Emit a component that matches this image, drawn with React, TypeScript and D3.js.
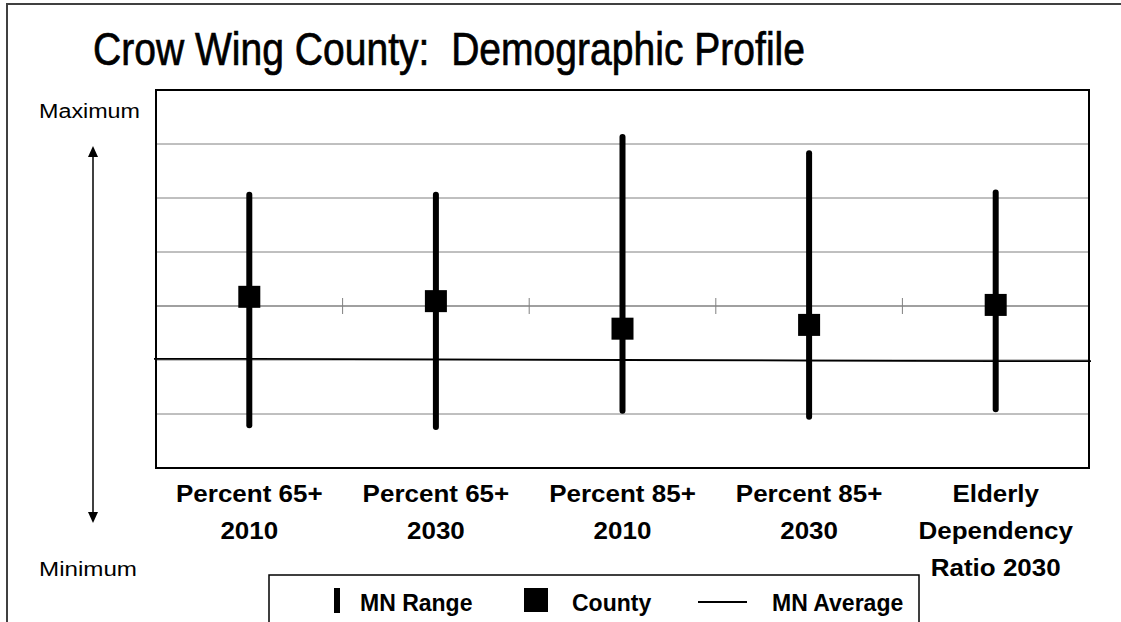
import React from 'react';
import * as d3 from 'd3';

// categories (each entry = label lines)
const categories = [
  ['Percent 65+', '2010'],
  ['Percent 65+', '2030'],
  ['Percent 85+', '2010'],
  ['Percent 85+', '2030'],
  ['Elderly', 'Dependency', 'Ratio 2030'],
];
const mnMax = [5.06, 5.06, 6.13, 5.83, 5.1];
const mnMin = [0.79, 0.76, 1.06, 0.95, 1.09];
const county = [3.17, 3.09, 2.58, 2.65, 3.02];
const mnAverage = [2.02, 2.01, 2.0, 1.99, 1.98];
const gridValues = [1, 2, 3, 4, 5, 6];
const axisValue = 3;

const W = 1121;
const H = 622;
const FONT = "'Liberation Sans', Arial, Helvetica, sans-serif";

const App = () => {
  const left = 156, right = 1089, top = 90, bottom = 468;
  const x = d3.scaleBand<number>().domain(d3.range(categories.length)).range([left, right]);
  const y = d3.scaleLinear().domain([0, 7]).range([bottom, top]);
  const cx = (i: number) => (x(i) as number) + x.bandwidth() / 2;

  const avgPts: [number, number][] = mnAverage.map((v, i) => [cx(i), y(v)]);
  avgPts.unshift([left - 2, y(mnAverage[0])]);
  avgPts.push([right + 2, y(mnAverage[mnAverage.length - 1])]);
  const avgLine = d3.line();

  const sq = 22;

  return (
    <svg width={W} height={H} style={{ position: 'absolute', left: 0, top: 0, background: '#fff' }} fontFamily={FONT}>
      <rect x={7} y={4} width={W + 20} height={H + 20} fill="#fff" stroke="#404040" strokeWidth={2} />
      <text x={93} y={65} fontSize={46} textLength={712} lengthAdjust="spacingAndGlyphs"
        stroke="#000" strokeWidth={0.7}
        fontFamily="'Liberation Sans Narrow', 'Arial Narrow', 'Liberation Sans', sans-serif">
        {'Crow Wing County:\u00a0 Demographic Profile'}
      </text>

      {/* left min/max indicator */}
      <text x={39} y={118} fontSize={20} textLength={101} lengthAdjust="spacingAndGlyphs">Maximum</text>
      <text x={39} y={576} fontSize={20} textLength={98} lengthAdjust="spacingAndGlyphs">Minimum</text>
      <line x1={93} x2={93} y1={155} y2={514} stroke="#000" strokeWidth={1.5} />
      <polygon points="93,146 88,157 98,157" fill="#000" />
      <polygon points="93,523 88,512 98,512" fill="#000" />

      {/* plot area */}
      <rect x={left} y={top} width={right - left} height={bottom - top} fill="#fff" />
      {gridValues.map(v => (
        <line key={v} x1={left} x2={right} y1={y(v)} y2={y(v)} stroke="#808080"
          strokeWidth={v === axisValue ? 1.6 : 1} />
      ))}
      {d3.range(1, categories.length).map(i => (
        <line key={i} x1={x(i)} x2={x(i)} y1={y(axisValue) - 8} y2={y(axisValue) + 8} stroke="#808080" strokeWidth={1} />
      ))}
      <path d={avgLine(avgPts) || ''} fill="none" stroke="#000" strokeWidth={1.8} />
      {categories.map((_, i) => (
        <g key={i}>
          <line x1={cx(i)} x2={cx(i)} y1={y(mnMax[i])} y2={y(mnMin[i])} stroke="#000" strokeWidth={6} strokeLinecap="round" />
          <rect x={cx(i) - sq / 2} y={y(county[i]) - sq / 2} width={sq} height={sq} fill="#000" />
        </g>
      ))}
      <rect x={left} y={top} width={right - left} height={bottom - top} fill="none" stroke="#000" strokeWidth={2} />

      {/* category labels */}
      {categories.map((lines, i) => (
        <g key={i}>
          {lines.map((t, j) => (
            <text key={j} transform={`translate(${cx(i)},${502 + j * 37}) scale(1.13,1)`} textAnchor="middle"
              fontSize={23} fontWeight="bold" fill="#000">{t}</text>
          ))}
        </g>
      ))}

      {/* legend */}
      <rect x={269} y={575} width={650} height={80} fill="#fff" stroke="#000" strokeWidth={1.5} />
      <rect x={334} y={588} width={6} height={25} fill="#000" />
      <text x={360} y={611} fontSize={23} fontWeight="bold">MN Range</text>
      <rect x={524} y={588} width={24} height={24} fill="#000" />
      <text x={572} y={611} fontSize={23} fontWeight="bold">County</text>
      <line x1={698} x2={747} y1={602} y2={602} stroke="#000" strokeWidth={1.8} />
      <text x={772} y={611} fontSize={23} fontWeight="bold">MN Average</text>
    </svg>
  );
};

export default App;
